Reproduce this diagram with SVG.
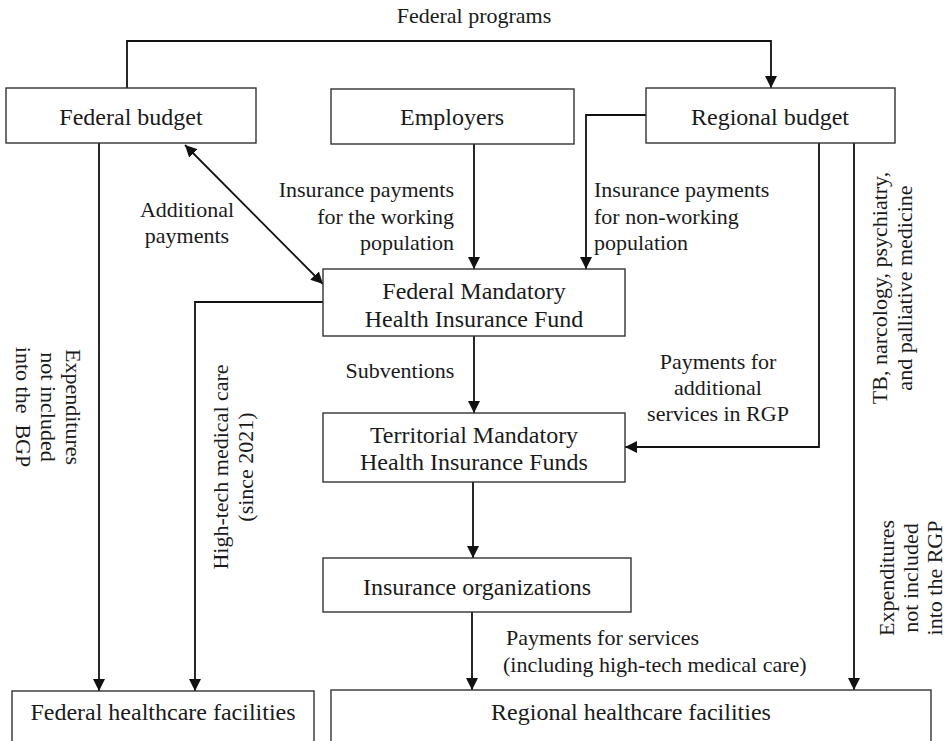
<svg xmlns="http://www.w3.org/2000/svg" width="951" height="741" viewBox="0 0 951 741">
<defs>
<marker id="arr" viewBox="0 0 12 12" markerWidth="12" markerHeight="12" refX="12" refY="6" markerUnits="userSpaceOnUse" orient="auto-start-reverse">
<path d="M0,0 L12,6 L0,12 z" fill="#111"/>
</marker>
<style>
.box{fill:#fff;stroke:#333;stroke-width:1.4}
.bt{font-family:"Liberation Serif","Times New Roman",serif;font-size:24px;fill:#1a1a1a;text-anchor:middle}
.lb{font-family:"Liberation Serif","Times New Roman",serif;font-size:22px;fill:#1a1a1a}
.c{fill:none;stroke:#111;stroke-width:1.8}
.a{marker-end:url(#arr)}
</style>
</defs>
<rect width="951" height="741" fill="#fff"/>

<g id="connectors">
<path class="c a" d="M127,88 V41 H771 V88"/>
<path class="c a" d="M99,143 V691"/>
<path class="c a" d="M185,145 L323,284" marker-start="url(#arr)"/>
<path class="c a" d="M474,144 V269"/>
<path class="c a" d="M646,115 H586 V269"/>
<path class="c a" d="M323,302 H195 V691"/>
<path class="c a" d="M474,336 V413"/>
<path class="c a" d="M819,143 V447 H625"/>
<path class="c a" d="M473,482 V558"/>
<path class="c a" d="M472,612 V690"/>
<path class="c a" d="M854,143 V690"/>
</g>

<g id="federal-budget">
<rect class="box" x="6" y="88" width="250" height="55"/>
<text class="bt" x="131" y="125">Federal budget</text>
</g>
<g id="employers">
<rect class="box" x="331" y="89" width="243" height="55"/>
<text class="bt" x="452" y="125">Employers</text>
</g>
<g id="regional-budget">
<rect class="box" x="646" y="88" width="249" height="55"/>
<text class="bt" x="770" y="125">Regional budget</text>
</g>
<g id="federal-mhif">
<rect class="box" x="323" y="269" width="302" height="67"/>
<text class="bt" x="474" y="299">Federal Mandatory</text>
<text class="bt" x="474" y="327">Health Insurance Fund</text>
</g>
<g id="territorial-mhif">
<rect class="box" x="323" y="413" width="302" height="69"/>
<text class="bt" x="474" y="443">Territorial Mandatory</text>
<text class="bt" x="474" y="470">Health Insurance Funds</text>
</g>
<g id="insurance-organizations">
<rect class="box" x="323" y="558" width="308" height="54"/>
<text class="bt" x="477" y="595">Insurance organizations</text>
</g>
<g id="federal-facilities">
<rect class="box" x="12" y="691" width="302" height="60"/>
<text class="bt" x="163" y="720">Federal healthcare facilities</text>
</g>
<g id="regional-facilities">
<rect class="box" x="331" y="690" width="600" height="60"/>
<text class="bt" x="631" y="720">Regional healthcare facilities</text>
</g>

<g id="labels">
<text class="lb" x="474" y="23" text-anchor="middle">Federal programs</text>
<text class="lb" text-anchor="middle"><tspan x="187" y="217">Additional</tspan><tspan x="187" y="243">payments</tspan></text>
<text class="lb" text-anchor="end"><tspan x="454" y="197">Insurance payments</tspan><tspan x="454" y="224">for the working</tspan><tspan x="454" y="250">population</tspan></text>
<text class="lb"><tspan x="594" y="197">Insurance payments</tspan><tspan x="594" y="224">for non-working</tspan><tspan x="594" y="250">population</tspan></text>
<text class="lb" x="400" y="378" text-anchor="middle">Subventions</text>
<text class="lb" text-anchor="middle"><tspan x="718" y="369">Payments for</tspan><tspan x="718" y="395">additional</tspan><tspan x="718" y="421">services in RGP</tspan></text>
<text class="lb"><tspan x="506" y="645">Payments for services</tspan><tspan x="503" y="672">(including high-tech medical care)</tspan></text>
<text class="lb" text-anchor="middle" transform="translate(66,407) rotate(90)" xml:space="preserve"><tspan x="0" y="0">Expenditures</tspan><tspan x="0" y="25">not included</tspan><tspan x="0" y="50">into the  BGP</tspan></text>
<text class="lb" text-anchor="middle" transform="translate(228,467) rotate(-90)"><tspan x="0" y="0">High-tech medical care</tspan><tspan x="0" y="25">(since 2021)</tspan></text>
<text class="lb" text-anchor="middle" transform="translate(887,288) rotate(-90)"><tspan x="0" y="0">TB, narcology, psychiatry,</tspan><tspan x="0" y="25">and palliative medicine</tspan></text>
<text class="lb" text-anchor="middle" transform="translate(894,578) rotate(-90)"><tspan x="0" y="0">Expenditures</tspan><tspan x="0" y="24">not included</tspan><tspan x="0" y="48">into the RGP</tspan></text>
</g>
</svg>
